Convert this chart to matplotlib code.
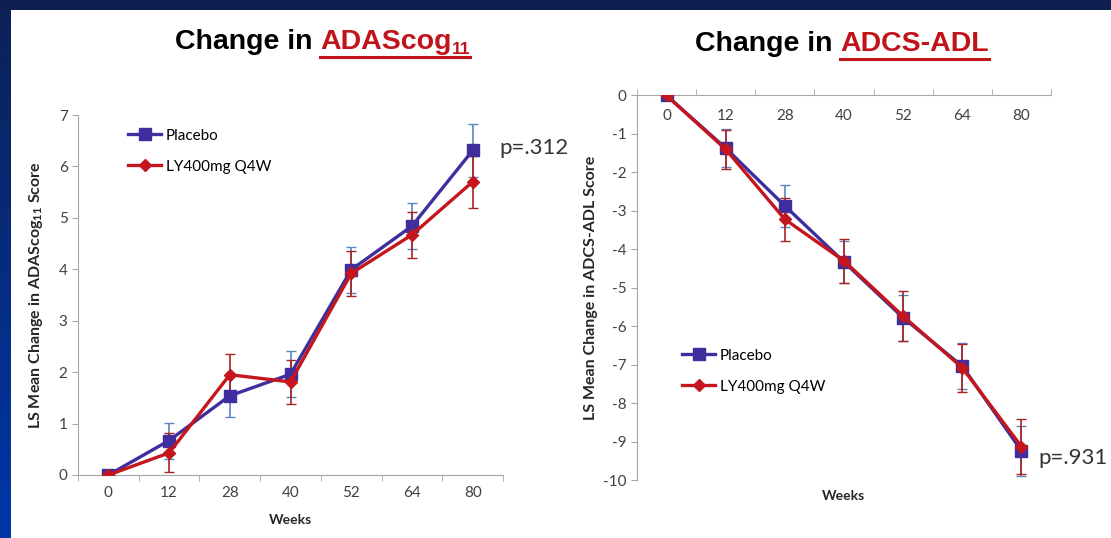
# ADAScog11 and ADCS-ADL change over time, placebo vs LY400mg Q4W
import numpy as np
import matplotlib
matplotlib.use('Agg')
import matplotlib.pyplot as plt
from matplotlib.lines import Line2D
from matplotlib.patches import Rectangle
from matplotlib.ticker import FixedLocator

plt.rcParams['font.family'] = ['Lato', 'DejaVu Sans']
plt.rcParams['mathtext.default'] = 'regular'
plt.rcParams['axes.unicode_minus'] = False

# Data
weeks = ['0', '12', '28', '40', '52', '64', '80']
adas_placebo = [0, 0.67, 1.54, 1.96, 3.99, 4.84, 6.31]
adas_placebo_err = [0, 0.35, 0.42, 0.45, 0.45, 0.45, 0.52]
adas_ly = [0, 0.43, 1.95, 1.81, 3.92, 4.67, 5.70]
adas_ly_err = [0, 0.38, 0.40, 0.43, 0.43, 0.45, 0.50]
adl_placebo = [0, -1.37, -2.87, -4.33, -5.78, -7.04, -9.24]
adl_placebo_err = [0, 0.50, 0.54, 0.55, 0.60, 0.60, 0.65]
adl_ly = [0, -1.40, -3.22, -4.30, -5.74, -7.08, -9.13]
adl_ly_err = [0, 0.50, 0.56, 0.58, 0.65, 0.62, 0.72]

W, H = 1111, 538
PLACEBO = '#3F2E9E'
PLACEBO_ERR = '#5A86C0'
LY = '#C4161C'
LY_ERR = '#A82222'
RED_TITLE = '#C0141A'
GRAY = '#A6A6A6'

fig = plt.figure(figsize=(W / 100, H / 100), dpi=100)
fig.patch.set_facecolor('white')

# slide border: navy top band and gradient left band
fig.add_artist(Rectangle((0, 1 - 10 / H), 1, 10 / H, transform=fig.transFigure,
                         facecolor='#0C1F4E', edgecolor='none', zorder=0))
left = fig.add_axes([0, 0, 11 / W, 1 - 10 / H])
grad = np.linspace(0, 1, 100)[:, None]
cmap = matplotlib.colors.LinearSegmentedColormap.from_list('band', ['#0C2258', '#0036A8'])
left.imshow(grad, aspect='auto', cmap=cmap, extent=[0, 1, 0, 1], origin='upper')
left.axis('off')

x = np.arange(len(weeks))


def style_axis(ax, xaxis_top=False):
    for s in ax.spines.values():
        s.set_color(GRAY)
    ax.spines['right'].set_visible(False)
    if xaxis_top:
        ax.spines['bottom'].set_visible(False)
    else:
        ax.spines['top'].set_visible(False)
    ax.set_xlim(-0.5, len(weeks) - 0.5)
    ax.set_xticks(x)
    ax.set_xticklabels(weeks)
    ax.xaxis.set_minor_locator(FixedLocator(np.arange(-0.5, len(weeks), 1)))
    ax.tick_params(axis='y', colors=GRAY, labelcolor='#404040', labelsize=11, length=4, direction='out')
    if xaxis_top:
        ax.tick_params(axis='x', which='major', bottom=False, labelbottom=False,
                       top=True, labeltop=True, length=0, pad=-20,
                       labelcolor='#404040', labelsize=11)
        ax.tick_params(axis='x', which='minor', bottom=False, top=True,
                       length=4, color=GRAY, direction='out')
    else:
        ax.tick_params(axis='x', which='major', length=0, pad=8,
                       labelcolor='#404040', labelsize=11)
        ax.tick_params(axis='x', which='minor', length=4, color=GRAY, direction='out')


def plot_series(ax, pl, pl_err, ly, ly_err):
    ax.errorbar(x, pl, yerr=pl_err, fmt='none', ecolor=PLACEBO_ERR, elinewidth=1.2, capsize=3.5, zorder=2)
    ax.errorbar(x, ly, yerr=ly_err, fmt='none', ecolor=LY_ERR, elinewidth=1.2, capsize=3.5, zorder=2)
    ax.plot(x, pl, color=PLACEBO, lw=2.4, marker='s', ms=9, label='Placebo', zorder=3)
    ax.plot(x, ly, color=LY, lw=2.4, marker='D', ms=6, label='LY400mg Q4W', zorder=4)


# left panel: ADAScog11
ax1 = fig.add_axes([78 / W, 1 - 475 / H, 425 / W, 360 / H])
plot_series(ax1, adas_placebo, adas_placebo_err, adas_ly, adas_ly_err)
style_axis(ax1)
ax1.set_ylim(0, 7)
ax1.set_yticks(range(0, 8))
ax1.set_ylabel('LS Mean Change in ADAScog$_{11}$ Score', fontsize=11.5, fontweight='bold', color='#262626', labelpad=10)
ax1.set_xlabel('Weeks', fontsize=10, fontweight='bold', color='#262626', labelpad=10)
ax1.legend(loc='upper left', bbox_to_anchor=(0.085, 1.0), frameon=False, fontsize=11,
           handlelength=2.2, handletextpad=0.3, labelspacing=1.1)
fig.text(499 / W, 1 - 148 / H, 'p=.312', fontsize=16, color='#333333', va='center', ha='left')

# right panel: ADCS-ADL
ax2 = fig.add_axes([637 / W, 1 - 480 / H, 414 / W, 384.5 / H])
plot_series(ax2, adl_placebo, adl_placebo_err, adl_ly, adl_ly_err)
style_axis(ax2, xaxis_top=True)
ax2.set_ylim(-10, 0)
ax2.set_yticks(range(-10, 1))
ax2.set_ylabel('LS Mean Change in ADCS-ADL Score', fontsize=11.5, fontweight='bold', color='#262626', labelpad=4)
ax2.set_xlabel('Weeks', fontsize=10, fontweight='bold', color='#262626', labelpad=0)
ax2.legend(loc='upper left', bbox_to_anchor=(0.075, 0.377), frameon=False, fontsize=11,
           handlelength=2.2, handletextpad=0.3, labelspacing=1.1)
fig.text(1038 / W, 1 - 458 / H, 'p=.931', fontsize=16, color='#333333', va='center', ha='left')

# titles with red underlined part
renderer = fig.canvas.get_renderer()


def title(x0, y_base, main, sub=None, size=20.5):
    kw = dict(fontweight='bold', family='Liberation Sans', va='baseline')
    t1 = fig.text(x0 / W, 1 - y_base / H, 'Change in\u00a0', color='black', fontsize=size, **kw)
    b1 = t1.get_window_extent(renderer)
    t2 = fig.text(b1.x1 / W, 1 - y_base / H, main, color=RED_TITLE, fontsize=size, **kw)
    b2 = t2.get_window_extent(renderer)
    end = b2.x1
    if sub:
        t3 = fig.text(b2.x1 / W, 1 - (y_base + 5) / H, sub, color=RED_TITLE, fontsize=12.5, **kw)
        end = t3.get_window_extent(renderer).x1
    fig.add_artist(Line2D([b2.x0 / W, end / W], [1 - (y_base + 7.5) / H] * 2, color=RED_TITLE, lw=2.2))


title(175, 49, 'ADAScog', '11')
title(695, 51, 'ADCS-ADL')

fig.savefig('out.png', dpi=100)
